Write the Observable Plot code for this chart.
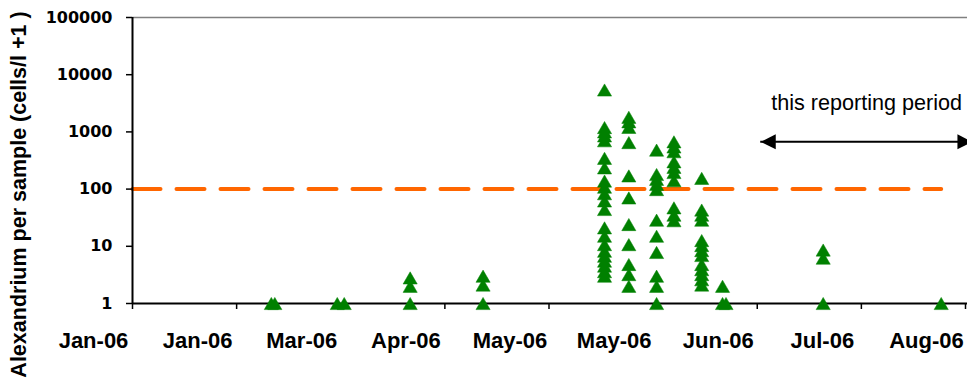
<!DOCTYPE html>
<html><head><meta charset="utf-8">
<script src="https://cdn.jsdelivr.net/npm/d3@7"></script>
<script src="https://cdn.jsdelivr.net/npm/@observablehq/plot@0.6"></script>
<style>body{margin:0;background:#fff}</style>
</head><body><div id="chart"></div>
<script>
// ---- data ----
const sampleDates = ["2006-02-10","2006-02-11","2006-03-01","2006-03-03","2006-03-22","2006-04-12",
  "2006-05-17","2006-05-24","2006-06-01","2006-06-06","2006-06-14","2006-06-20","2006-06-21",
  "2006-07-19","2006-08-22"];
const sampleCounts = [
  [1], [1], [1], [1],
  [2.8, 2, 1],
  [3, 2.1, 1],
  [5400, 1190, 1000, 850, 700, 345, 235, 138, 108, 83, 62, 44, 21, 15, 10.7, 8.2, 6.7, 5.5, 4.5, 3.6, 3.0],
  [1800, 1500, 1200, 650, 170, 70, 24, 10.7, 4.8, 3.2, 2.0],
  [480, 180, 148, 121, 98, 28.6, 15, 7.8, 3, 2, 1],
  [670, 545, 450, 300, 240, 195, 140, 47, 35, 28],
  [154, 43, 35, 28.6, 12.6, 10.3, 8.4, 6.9, 4.8, 3.9, 3.2, 2.6, 2.1],
  [2, 1], [1],
  [8.6, 6.2, 1],
  [1]
];
const thresholdValue = 100;
const thresholdDates = ["2006-01-01", "2006-08-22"];
const xDomain = ["2006-01-01", "2006-08-29"];
const xTicks = ["2006-01-01","2006-01-31","2006-03-02","2006-04-01","2006-05-01","2006-05-31","2006-06-30","2006-07-30","2006-08-29"];
const yTicks = [1, 10, 100, 1000, 10000, 100000];
const yTitle = "Alexandrium per sample (cells/l +1 )";
const periodLabel = "this reporting period";
const periodDates = ["2006-07-01", "2006-08-31"];
const periodLevel = 670;
const periodLabelDate = "2006-07-31T12:00";
const periodLabelLevel = 3200;
const frameEndDate = "2006-08-31";

// ---- build ----
const P = d3.isoParse;
const samples = sampleDates.flatMap((d, i) => sampleCounts[i].map(v => ({date: P(d), count: v})));
const threshold = thresholdDates.map(d => ({date: P(d), value: thresholdValue}));

const excelTriangle = {
  draw(ctx, size) {
    const k = Math.sqrt(size / Math.PI);
    ctx.moveTo(0, -k);
    ctx.lineTo(1.16 * k, k);
    ctx.lineTo(-1.16 * k, k);
    ctx.closePath();
  }
};
const arrowHead = {
  draw(ctx, size) {
    const k = Math.sqrt(size / Math.PI);
    ctx.moveTo(-k, 0);
    ctx.lineTo(k, -k);
    ctx.lineTo(k, k);
    ctx.closePath();
  }
};

const chart = Plot.plot({
  width: 967,
  height: 383,
  marginLeft: 132,
  marginRight: 2,
  marginTop: 17,
  marginBottom: 80,
  x: {type: "utc", domain: xDomain.map(P)},
  y: {type: "log", domain: [yTicks[0], yTicks[yTicks.length - 1]]},
  style: {fontFamily: "'Liberation Sans', Arial, sans-serif", background: "white", overflow: "visible"},
  marks: [
    Plot.ruleY([yTicks[yTicks.length - 1]], {x1: P(xDomain[0]), x2: P(frameEndDate), stroke: "#808080", strokeWidth: 1.5}),
    Plot.line(threshold, {x: "date", y: "value", stroke: "#FF6600", strokeWidth: 4, strokeDasharray: "28,16"}),
    Plot.ruleY([yTicks[0]], {x1: P(xDomain[0]), x2: P(frameEndDate), stroke: "black", strokeWidth: 2}),
    Plot.ruleX([P(xDomain[0])], {y1: yTicks[0], y2: yTicks[yTicks.length - 1], stroke: "black", strokeWidth: 2}),
    Plot.axisY({ticks: yTicks, tickFormat: d => String(d), tickSize: 6, tickPadding: 14, label: null,
      fontFamily: "'DejaVu Sans', sans-serif", fontWeight: "bold", fontSize: 16, color: "black", strokeWidth: 1.5}),
    Plot.axisX({ticks: xTicks.map(P), tickSize: 6, tickFormat: () => "", label: null, color: "black", strokeWidth: 1.5}),
    Plot.axisX({ticks: xTicks.map(P), tickSize: 0, tickPadding: 29, tickFormat: d3.utcFormat("%b-%y"), label: null,
      dx: -39, fontSize: 22, fontWeight: "bold", color: "black"}),
    Plot.dot(samples, {x: "date", y: "count", symbol: excelTriangle, r: 6.1, fill: "#008000", stroke: "#008000", strokeWidth: 0.5}),
    Plot.ruleY([periodLevel], {x1: P(periodDates[0]), x2: P(periodDates[1]), stroke: "black", strokeWidth: 2}),
    Plot.dot([P(periodDates[0])], {x: d => d, y: periodLevel, symbol: arrowHead, r: 7.5, dx: 7.5, fill: "black"}),
    Plot.dot([P(periodDates[1])], {x: d => d, y: periodLevel, symbol: arrowHead, r: 7.5, dx: -7.5, rotate: 180, fill: "black"}),
    Plot.text([periodLabel], {x: P(periodLabelDate), y: periodLabelLevel, text: d => d, fontSize: 21.6, fill: "black", textAnchor: "middle"}),
    Plot.text([yTitle], {frameAnchor: "left", text: d => d, rotate: -90, dx: -113.5, dy: 34, fontSize: 21.5, fontWeight: "bold", fill: "black", textAnchor: "middle"})
  ]
});
document.getElementById("chart").appendChild(chart);
</script>
</body></html>
